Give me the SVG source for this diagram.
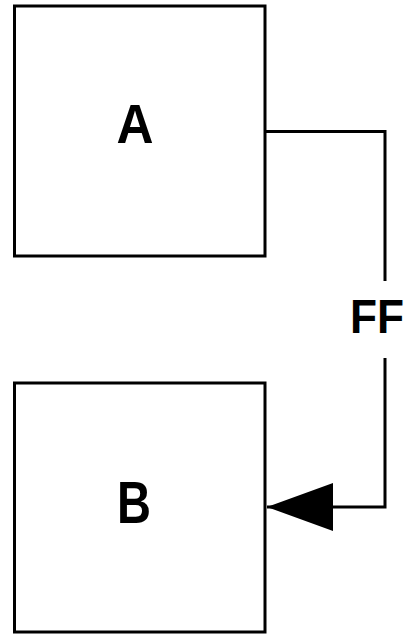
<svg xmlns="http://www.w3.org/2000/svg" width="409" height="636" viewBox="0 0 409 636">
  <style>
    .box { fill: #ffffff; stroke: #000000; stroke-width: 3; }
    .label { font-family: "Liberation Sans", Arial, sans-serif; font-weight: bold; fill: #000000; text-anchor: middle; }
    .wire { fill: none; stroke: #000000; stroke-width: 3; }
  </style>
  <defs>
    <marker id="arrow" markerUnits="userSpaceOnUse" markerWidth="68" markerHeight="50" refX="66" refY="24" orient="auto">
      <path d="M0,0 L66,24 L0,48 Z" fill="#000000"/>
    </marker>
  </defs>
  <rect width="409" height="636" fill="#ffffff"/>

  <g id="node-a">
    <rect class="box" x="14.5" y="6" width="250.5" height="250"/>
    <text class="label" x="135" y="143" font-size="56" textLength="37" lengthAdjust="spacingAndGlyphs">A</text>
  </g>

  <g id="node-b">
    <rect class="box" x="14.5" y="383" width="250.5" height="249"/>
    <text class="label" x="134" y="523" font-size="60" textLength="34" lengthAdjust="spacingAndGlyphs">B</text>
  </g>

  <g id="connectors">
    <path class="wire" d="M265,131.5 H385 V281"/>
    <path class="wire" d="M385,358 V507 H267" marker-end="url(#arrow)"/>
    <text class="label" x="377" y="333" font-size="48" textLength="54" lengthAdjust="spacingAndGlyphs">FF</text>
  </g>
</svg>
